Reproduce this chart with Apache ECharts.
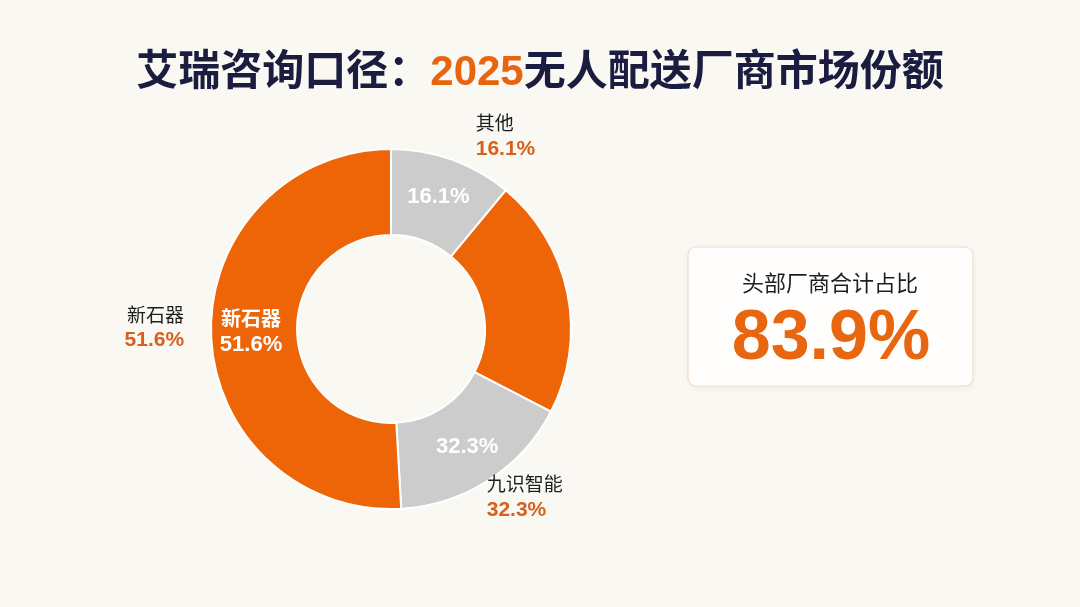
<!DOCTYPE html>
<html>
<head>
<meta charset="utf-8">
<title>2025无人配送厂商市场份额</title>
<script src="https://cdn.jsdelivr.net/npm/echarts@6/dist/echarts.min.js"></script>
<style>
    html, body { margin: 0; padding: 0; background: #faf8f4; }
    #share_chart { width: 1080px; height: 607px; }
</style>
</head>
<body>
<div id="share_chart"></div>
<script>
// Chart data
// ------------------------------

// Slices, clockwise from the top, as drawn in the picture
var sliceNames = ['其他', '其他头部', '九识智能', '新石器'];
var sliceValues = [11.0, 21.6, 16.5, 50.9];
var sliceColors = ['#cccccc', '#ee6508', '#cccccc', '#ee6508'];

// Printed share labels ('' = no label)
var shareLabels = ['16.1%', '', '32.3%', '51.6%'];
var insideNames = ['', '', '', '新石器'];

// Summary card
var summaryTitle = '头部厂商合计占比';
var summaryValue = 83.9;


// Setup module
// ------------------------------

var MarketShareDonut = function() {

    var fontCjk = '"Liberation Sans", "Noto Sans CJK SC", sans-serif';

    // small nudges for the outside labels (dx, dy)
    var outerNudge = [[10, -4], [0, 0], [-20, 1], [0, -6]];

    var _donut = function() {
        if (typeof echarts == 'undefined') {
            console.warn('Warning - echarts.min.js is not loaded.');
            return;
        }

        var el = document.getElementById('share_chart');
        var chart = echarts.init(el);

        // Inner ring data (white labels inside the slices)
        var innerData = sliceNames.map(function(name, i) {
            var txt = shareLabels[i];
            if (insideNames[i]) txt = '{n|' + insideNames[i] + '}\n{p|' + txt + '}';
            else if (txt) txt = '{p|' + txt + '}';
            return {
                name: name,
                value: sliceValues[i],
                itemStyle: { color: sliceColors[i] },
                label: { show: !!shareLabels[i], formatter: txt }
            };
        });

        // Outside labels (name + share)
        var outerData = sliceNames.map(function(name, i) {
            return {
                name: name,
                value: sliceValues[i],
                label: {
                    show: !!shareLabels[i],
                    formatter: '{n|' + name + '}\n{p|' + shareLabels[i] + '}'
                }
            };
        });

        chart.setOption({
            backgroundColor: '#faf8f3',
            animation: false,

            textStyle: {
                fontFamily: fontCjk
            },

            // Title
            title: {
                text: '{a|艾瑞咨询口径：}{b|2025}{a|无人配送厂商市场份额}',
                left: 'center',
                top: 47,
                textStyle: {
                    rich: {
                        a: { fontSize: 42, fontWeight: 'bold', color: '#1a1d40', fontFamily: fontCjk },
                        b: { fontSize: 42, fontWeight: 'bold', color: '#e8640f', fontFamily: fontCjk }
                    }
                }
            },

            // Summary card
            graphic: [{
                type: 'rect',
                shape: { x: 688, y: 247, width: 285, height: 139, r: 8 },
                style: { fill: '#fffefd', stroke: '#f1dccb', lineWidth: 1.2,
                         shadowBlur: 10, shadowColor: 'rgba(0,0,0,0.04)', shadowOffsetY: 3 }
            }, {
                type: 'text',
                x: 830, y: 285,
                style: { text: summaryTitle, fill: '#1e1e1e', fontSize: 22,
                         fontFamily: fontCjk, align: 'center', verticalAlign: 'middle' }
            }, {
                type: 'text',
                x: 831, y: 340,
                style: { text: summaryValue.toFixed(1) + '%', fill: '#e8660f', fontSize: 70,
                         fontWeight: 'bold', fontFamily: fontCjk, align: 'center', verticalAlign: 'middle' }
            }],

            series: [{
                name: '市场份额',
                type: 'pie',
                center: [391, 329],
                radius: [94, 180],
                startAngle: 90,
                clockwise: true,
                itemStyle: {
                    borderWidth: 2,
                    borderColor: '#ffffff'
                },
                label: {
                    position: 'inside',
                    color: '#ffffff',
                    rich: {
                        n: { fontSize: 20, fontWeight: 'bold', color: '#ffffff', lineHeight: 24, fontFamily: fontCjk },
                        p: { fontSize: 22, fontWeight: 'bold', color: '#ffffff', lineHeight: 24, fontFamily: fontCjk }
                    }
                },
                labelLine: { show: false },
                emphasis: { disabled: true },
                data: innerData
            }, {
                name: '标签',
                type: 'pie',
                silent: true,
                center: [391, 329],
                radius: [94, 180],
                startAngle: 90,
                clockwise: true,
                itemStyle: { color: 'rgba(0,0,0,0)' },
                label: {
                    position: 'outside',
                    distanceToLabelLine: 2,
                    rich: {
                        n: { fontSize: 19, color: '#1e1e1e', lineHeight: 24, fontFamily: fontCjk },
                        p: { fontSize: 21, fontWeight: 'bold', color: '#d8601c', lineHeight: 24, fontFamily: fontCjk }
                    }
                },
                labelLine: { show: false, length: 20, length2: 5 },
                labelLayout: function(params) {
                    var n = outerNudge[params.dataIndex];
                    return { dx: n[0], dy: n[1] };
                },
                emphasis: { disabled: true },
                data: outerData
            }]
        });
    };

    return {
        init: function() {
            _donut();
        }
    }
}();


// Initialize module
// ------------------------------

document.addEventListener('DOMContentLoaded', function() {
    MarketShareDonut.init();
});
</script>
</body>
</html>
